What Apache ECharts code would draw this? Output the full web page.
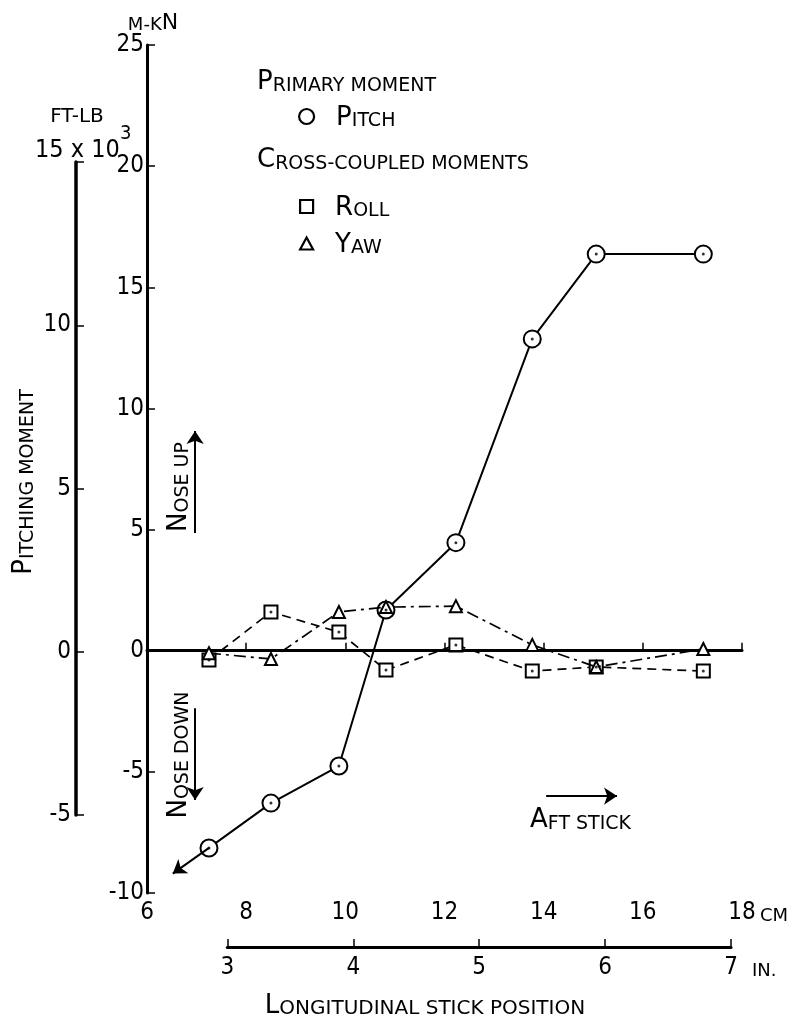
<!DOCTYPE html>
<html>
<head>
<meta charset="utf-8">
<script src="https://cdn.jsdelivr.net/npm/echarts@6/dist/echarts.min.js"></script>
<style>html,body{margin:0;padding:0;background:#fff;}#c{width:792px;height:1019px;}</style>
</head>
<body>
<div id="c"></div>
<script>
// ---- data ----
const stickCm = [7.25, 8.5, 9.87, 10.82, 12.23, 13.77, 15.06, 17.22];
const pitch   = [-8.14, -6.29, -4.76, 1.68, 4.46, 12.87, 16.37, 16.37];
const roll    = [-0.38, 1.60, 0.77, -0.80, 0.24, -0.84, -0.67, -0.84];
const yaw     = [-0.10, -0.34, 1.60, 1.80, 1.84, 0.24, -0.67, 0.07];
const cmRange   = [6, 18];     // cm, step 2
const inRange   = [3, 7];      // in., step 1
const mknRange  = [-10, 25];   // m-kN, step 5
const ftlbRange = [-5, 15];    // ft-lb x 10^3, step 5
const CM_PER_IN = 2.54;

const FONT = "'DejaVu Sans', sans-serif";
const NUMFONT = "'DejaVu Sans Condensed', 'DejaVu Sans', sans-serif";

// small-caps helper: uppercase letters big, lowercase letters as small capitals
function sc(s) {
  let out = '', cur = null, buf = '';
  for (const ch of s) {
    const st = /[A-Z]/.test(ch) ? 'b' : 's';
    if (st !== cur) { if (buf) out += '{' + cur + '|' + buf + '}'; buf = ''; cur = st; }
    buf += ch.toUpperCase();
  }
  if (buf) out += '{' + cur + '|' + buf + '}';
  return out;
}
function rich(B, S) {
  const k = 0.594;
  const hs = Math.round(S * 1.3);
  const hb = Math.round(hs + k * (B - S));
  return {
    b: { fontSize: B, fontFamily: FONT, color: '#000', verticalAlign: 'bottom', lineHeight: hb },
    s: { fontSize: S, fontFamily: FONT, color: '#000', verticalAlign: 'bottom', lineHeight: hs },
    sp: { width: 17 }
  };
}
function label(text, x, y, B, S, opts) {
  opts = opts || {};
  return {
    type: 'text', x: x, y: y, rotation: opts.rot || 0, z: 100, silent: true,
    style: {
      text: sc(text), rich: rich(B, S),
      align: opts.align || 'left', textAlign: opts.align || 'left',
      verticalAlign: 'middle', textVerticalAlign: 'middle', fill: '#000'
    }
  };
}
function plain(text, x, y, size, align) {
  return { type: 'text', x: x, y: y, z: 100, silent: true,
    style: { text: text, font: size + "px 'DejaVu Sans Condensed', 'DejaVu Sans', sans-serif",
      fill: '#000', align: align || 'left', textAlign: align || 'left',
      verticalAlign: 'middle', textVerticalAlign: 'middle' } };
}

const G0 = { left: 147, top: 45, width: 595, height: 848 };
const cmSpan = cmRange[1] - cmRange[0];
const inLeft = G0.left + (inRange[0] * CM_PER_IN - cmRange[0]) / cmSpan * G0.width;
const inRight = G0.left + (inRange[1] * CM_PER_IN - cmRange[0]) / cmSpan * G0.width;

const axisTxt = { color: '#000', fontSize: 24, fontFamily: NUMFONT };
const axLine = (w) => ({ show: true, lineStyle: { color: '#000', width: w } });
const axTick = { show: true, inside: true, length: 8, lineStyle: { color: '#000', width: 1.5 } };

const pts = (ys) => stickCm.map((x, i) => [x, ys[i]]);

const legendBase = {
  itemStyle: { color: '#fff', borderColor: '#000', borderWidth: 2.2 },
  formatter: n => '{sp|}' + sc(n), textStyle: { rich: rich(26, 19) }, selectedMode: false
};

const option = {
  backgroundColor: '#fff',
  animation: false,
  grid: [
    { left: G0.left, top: G0.top, width: G0.width, height: G0.height },
    { left: 76, top: 162, width: 20, height: 653 },
    { left: inLeft, top: 937, width: inRight - inLeft, height: 10 }
  ],
  xAxis: [
    { type: 'value', gridIndex: 0, min: cmRange[0], max: cmRange[1], interval: 2,
      axisLine: axLine(3), axisTick: axTick, splitLine: { show: false },
      axisLabel: Object.assign({ margin: 8 }, axisTxt) },
    { type: 'value', gridIndex: 1, show: false, min: 0, max: 1 },
    { type: 'value', gridIndex: 2, min: inRange[0], max: inRange[1], interval: 1,
      axisLine: axLine(3), axisTick: axTick, splitLine: { show: false },
      axisLabel: Object.assign({ margin: 9 }, axisTxt) }
  ],
  yAxis: [
    { type: 'value', gridIndex: 0, min: mknRange[0], max: mknRange[1], interval: 5,
      axisLine: axLine(3), axisTick: axTick, splitLine: { show: false },
      axisLabel: Object.assign({ margin: 3 }, axisTxt) },
    { type: 'value', gridIndex: 1, position: 'left', min: ftlbRange[0], max: ftlbRange[1], interval: 5,
      axisLine: axLine(3.5), axisTick: axTick, splitLine: { show: false },
      axisLabel: Object.assign({ margin: 5, formatter: v => (v === ftlbRange[1] ? '' : String(v)) }, axisTxt) },
    { type: 'value', gridIndex: 2, show: false, min: 0, max: 1 }
  ],
  legend: [
    Object.assign({ data: ['Pitch'], left: 293, top: 100, itemWidth: 15, itemHeight: 15, icon: 'circle' }, legendBase),
    Object.assign({ data: ['Roll'], left: 294, top: 190, itemWidth: 13, itemHeight: 13, icon: 'rect' }, legendBase),
    Object.assign({ data: ['Yaw'], left: 294, top: 227, itemWidth: 13, itemHeight: 12, icon: 'triangle' }, legendBase)
  ],
  series: [
    { name: 'Pitch', type: 'line', xAxisIndex: 0, yAxisIndex: 0, data: pts(pitch),
      symbol: 'emptyCircle', symbolSize: 17, z: 3,
      lineStyle: { color: '#000', width: 2 }, itemStyle: { color: '#000', borderWidth: 2.2 },
      markLine: { silent: true, symbol: ['none', 'arrow'], symbolSize: 13,
        label: { show: false }, lineStyle: { color: '#000', width: 2, type: 'solid' },
        data: [
          [{ coord: [stickCm[0], pitch[0]] }, { coord: [6.52, -9.2] }],
          [{ coord: [6.97, 4.86] }, { coord: [6.97, 9.07] }],
          [{ coord: [6.97, -2.37] }, { coord: [6.97, -6.16] }],
          [{ coord: [14.05, -6.0] }, { coord: [15.48, -6.0] }]
        ] } },
    { name: 'Roll', type: 'line', xAxisIndex: 0, yAxisIndex: 0, data: pts(roll),
      symbol: 'emptyRect', symbolSize: 13, z: 4,
      lineStyle: { color: '#000', width: 1.7, type: [9, 6] }, itemStyle: { color: '#000', borderWidth: 2.2 },
      markLine: { silent: true, symbol: 'none', label: { show: false },
        lineStyle: { color: '#000', width: 1.2, type: 'solid' }, data: [{ yAxis: 0 }] } },
    { name: 'Yaw', type: 'line', xAxisIndex: 0, yAxisIndex: 0, data: pts(yaw),
      symbol: 'emptyTriangle', symbolSize: 12, z: 5,
      lineStyle: { color: '#000', width: 1.7, type: [12, 5, 3, 5] }, itemStyle: { color: '#000', borderWidth: 2.2 } },
    { name: 'dots', type: 'scatter', xAxisIndex: 0, yAxisIndex: 0, silent: true, z: 6,
      data: pts(pitch).concat(pts(roll)), symbol: 'circle', symbolSize: 3, itemStyle: { color: '#000' } }
  ],
  graphic: [
    label('m-kN', 153, 22, 22, 18, { align: 'center' }),
    label('ft-lb', 77, 114, 24, 20, { align: 'center' }),
    plain('15 x 10', 35, 150, 25),
    plain('3', 120, 134, 20),
    label('Primary moment', 257, 81, 26, 19),
    label('Cross-coupled moments', 257, 159, 26, 19),
    label('Nose up', 178, 487, 26, 19, { align: 'center', rot: Math.PI / 2 }),
    label('Nose down', 178, 755, 26, 19, { align: 'center', rot: Math.PI / 2 }),
    label('Aft stick', 530, 819, 26, 19),
    label('Pitching moment', 23, 482, 26, 19, { align: 'center', rot: Math.PI / 2 }),
    label('cm', 760, 914, 22, 18),
    label('in.', 752, 969, 22, 18),
    label('Longitudinal stick position', 425, 1004, 26, 20, { align: 'center' })
  ]
};

const chart = echarts.init(document.getElementById('c'), null, { renderer: 'canvas' });
chart.setOption(option);
</script>
</body>
</html>
